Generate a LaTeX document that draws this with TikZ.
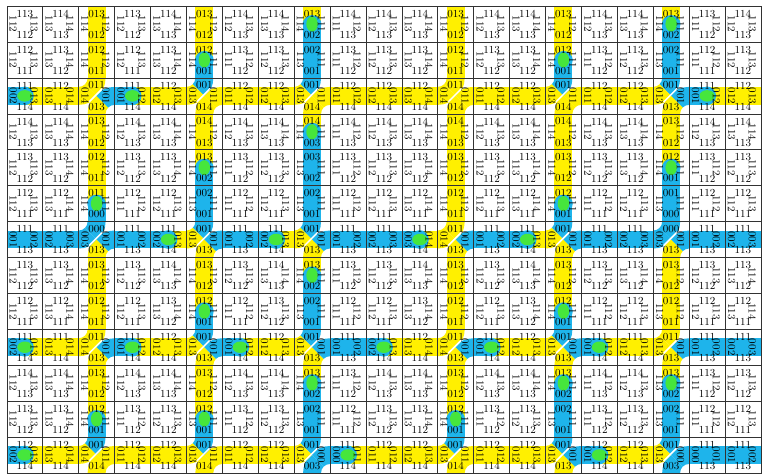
\documentclass[tikz,border=0pt]{standalone}
\usetikzlibrary{calc}
\definecolor{chipyellow}{RGB}{255,240,0}
\definecolor{chipblue}{RGB}{30,180,235}
\definecolor{chipgreen}{RGB}{70,230,60}
\definecolor{tileline}{RGB}{50,50,50}

\tikzset{
  lab/.style={inner sep=0pt,font=\fontsize{8.5}{10}\selectfont},
  sidelab/.style={lab,rotate=-90},
  border/.style={draw=tileline,line width=.5pt},
  gap/.style={white,line width=1.2pt}
}

% colour of an edge label: 11x none, 01x yellow, 00x blue
\makeatletter
\def\nocolor{none}
\newcommand\parselab[2]{\expandafter\parselab@\expandafter#1#2\relax}
\def\parselab@#1#2#3#4\relax{%
  \if1#2\def#1{none}\else\if1#3\def#1{chipyellow}\else\def#1{chipblue}\fi\fi}
\makeatother

% one Wang tile: column, row, north, east, south, west
\newcommand\wangtile[6]{%
  \parselab\colN{#3}\parselab\colE{#4}\parselab\colS{#5}\parselab\colW{#6}%
  \begin{scope}[shift={(#1+.5,-#2-.5)}]
    \ifx\colN\nocolor
      \ifx\colW\nocolor\else
        \fill[fill=\colW] (-.5,-.25) rectangle (0,.25);
        \fill[fill=\colE] (0,-.25) rectangle (.5,.25);
        \ifx\colW\colE\else
          \fill[chipblue] (0,0) ellipse[x radius=.25,y radius=.26];
          \fill[chipgreen] (0,0) ellipse[x radius=.21,y radius=.16];
        \fi
      \fi
    \else
      \ifx\colW\nocolor
        \fill[fill=\colN] (-.25,0) rectangle (.25,.5);
        \fill[fill=\colS] (-.25,-.5) rectangle (.25,0);
        \ifx\colN\colS\else
          \fill[chipblue] (0,0) ellipse[x radius=.26,y radius=.25];
          \fill[chipgreen] (0,0) ellipse[x radius=.16,y radius=.21];
        \fi
      \else
        \begin{scope}
          \clip (-.5,.5) -- (.5,.5) -- (0,0) -- cycle;
          \fill[fill=\colN,even odd rule] (-.5,.5) circle (.75) (-.5,.5) circle (.25);
        \end{scope}
        \begin{scope}
          \clip (-.5,.5) -- (-.5,-.5) -- (0,0) -- cycle;
          \fill[fill=\colW,even odd rule] (-.5,.5) circle (.75) (-.5,.5) circle (.25);
        \end{scope}
        \begin{scope}
          \clip (-.5,-.5) -- (.5,-.5) -- (0,0) -- cycle;
          \fill[fill=\colS,even odd rule] (.5,-.5) circle (.75) (.5,-.5) circle (.25);
        \end{scope}
        \begin{scope}
          \clip (.5,.5) -- (.5,-.5) -- (0,0) -- cycle;
          \fill[fill=\colE,even odd rule] (.5,-.5) circle (.75) (.5,-.5) circle (.25);
        \end{scope}
        \draw[gap] (-.21,-.17) -- (.17,.21);
      \fi
    \fi
    \draw[border] (-.5,-.5) rectangle (.5,.5);
    \node[lab] (n#1-#2) at (0,.29) {#3};
    \node[sidelab] (e#1-#2) at (.26,0) {#4};
    \node[lab] (s#1-#2) at (0,-.3) {#5};
    \node[sidelab] (w#1-#2) at (-.32,0) {#6};
  \end{scope}}

% a row of tiles, each given as north/east/south/west
\newcommand\tilerow[2]{%
  \foreach[count=\ci from 0] \tn/\te/\ts/\tw in {#2}{\wangtile{\ci}{#1}{\tn}{\te}{\ts}{\tw}}}

\begin{document}
\begin{tikzpicture}
  \useasboundingbox (-.19,-13.03) rectangle (21.03,.17);
  \tilerow{0}{113/113/112/112, 114/114/113/113, 013/112/012/114, 113/113/112/112, 114/114/113/113, 013/112/012/114, 114/113/113/112, 114/114/113/113, 013/111/002/114, 114/112/113/111, 114/113/113/112, 114/114/113/113, 013/112/012/114, 114/113/113/112, 114/114/113/113, 013/112/012/114, 114/113/113/112, 114/114/113/113, 013/111/002/114, 113/112/112/111, 114/113/113/112}
  \tilerow{1}{112/113/111/112, 113/114/112/113, 012/112/011/114, 112/113/111/112, 113/114/112/113, 012/111/001/114, 113/112/112/111, 113/113/112/112, 002/111/001/113, 113/112/112/111, 113/113/112/112, 113/114/112/113, 012/112/011/114, 113/113/112/112, 113/114/112/113, 012/111/001/114, 113/112/112/111, 113/113/112/112, 002/111/001/113, 112/112/111/111, 113/113/112/112}
  \tilerow{2}{111/013/114/002, 112/014/114/013, 011/001/013/014, 111/012/114/001, 112/013/114/012, 001/011/014/013, 112/012/114/011, 112/013/114/012, 001/011/014/013, 112/012/114/011, 112/013/114/012, 112/014/114/013, 011/011/014/014, 112/012/114/011, 112/013/114/012, 001/011/014/013, 112/012/114/011, 112/013/114/012, 001/001/013/013, 111/012/114/001, 112/013/114/012}
  \tilerow{3}{114/113/113/112, 114/114/113/113, 013/112/012/114, 114/113/113/112, 114/114/113/113, 014/112/013/114, 114/113/113/112, 114/114/113/113, 014/111/003/114, 114/112/113/111, 114/113/113/112, 114/114/113/113, 014/112/013/114, 114/113/113/112, 114/114/113/113, 014/112/013/114, 114/113/113/112, 114/114/113/113, 013/112/012/114, 114/113/113/112, 114/114/113/113}
  \tilerow{4}{113/113/112/112, 113/114/112/113, 012/112/011/114, 113/113/112/112, 113/114/112/113, 013/111/002/114, 113/112/112/111, 113/113/112/112, 003/111/002/113, 113/112/112/111, 113/113/112/112, 113/114/112/113, 013/112/012/114, 113/113/112/112, 113/114/112/113, 013/112/012/114, 113/113/112/112, 113/114/112/113, 012/111/001/114, 113/112/112/111, 113/113/112/112}
  \tilerow{5}{112/113/111/112, 112/114/111/113, 011/111/000/114, 112/112/111/111, 112/113/111/112, 002/111/001/113, 112/112/111/111, 112/113/111/112, 002/111/001/113, 112/112/111/111, 112/113/111/112, 112/114/111/113, 012/112/011/114, 112/113/111/112, 112/114/111/113, 012/111/001/114, 112/112/111/111, 112/113/111/112, 001/111/000/113, 112/112/111/111, 112/113/111/112}
  \tilerow{6}{111/002/113/001, 111/003/113/002, 000/001/013/003, 111/002/113/001, 111/013/114/002, 001/001/013/013, 111/002/113/001, 111/013/114/002, 001/001/013/013, 111/002/113/001, 111/003/113/002, 111/014/114/003, 011/001/013/014, 111/002/113/001, 111/013/114/002, 001/001/013/013, 111/002/113/001, 111/003/113/002, 000/001/013/003, 111/002/113/001, 111/003/113/002}
  \tilerow{7}{113/113/112/112, 113/114/112/113, 013/112/012/114, 113/113/112/112, 114/114/113/113, 013/112/012/114, 113/113/112/112, 114/114/113/113, 013/111/002/114, 113/112/112/111, 113/113/112/112, 114/114/113/113, 013/112/012/114, 113/113/112/112, 114/114/113/113, 013/112/012/114, 113/113/112/112, 113/114/112/113, 013/112/012/114, 113/113/112/112, 113/114/112/113}
  \tilerow{8}{112/113/111/112, 112/114/111/113, 012/112/011/114, 112/113/111/112, 113/114/112/113, 012/111/001/114, 112/112/111/111, 113/113/112/112, 002/111/001/113, 112/112/111/111, 112/113/111/112, 113/114/112/113, 012/112/011/114, 112/113/111/112, 113/114/112/113, 012/111/001/114, 112/112/111/111, 112/113/111/112, 012/112/011/113, 112/113/111/112, 112/114/111/113}
  \tilerow{9}{111/013/114/002, 111/014/114/013, 011/001/013/014, 111/012/114/001, 112/013/114/012, 001/001/013/013, 111/012/114/001, 112/013/114/012, 001/001/013/013, 111/002/113/001, 111/013/114/002, 112/014/114/013, 011/001/013/014, 111/012/114/001, 112/013/114/012, 001/001/013/013, 111/012/114/001, 111/013/114/012, 011/001/013/013, 111/002/113/001, 111/003/113/002}
  \tilerow{10}{114/113/113/112, 114/114/113/113, 013/112/012/114, 114/113/113/112, 114/114/113/113, 013/112/012/114, 114/113/113/112, 114/114/113/113, 013/111/002/114, 113/112/112/111, 114/113/113/112, 114/114/113/113, 013/112/012/114, 114/113/113/112, 114/114/113/113, 013/111/002/114, 114/112/113/111, 114/113/113/112, 013/111/002/113, 113/112/112/111, 113/113/112/112}
  \tilerow{11}{113/113/112/112, 113/114/112/113, 012/111/001/114, 113/112/112/111, 113/113/112/112, 012/111/001/113, 113/112/112/111, 113/113/112/112, 002/111/001/113, 112/112/111/111, 113/113/112/112, 113/114/112/113, 012/111/001/114, 113/112/112/111, 113/113/112/112, 002/111/001/113, 113/112/112/111, 113/113/112/112, 002/111/001/113, 112/112/111/111, 112/113/111/112}
  \tilerow{12}{112/013/114/002, 112/014/114/013, 001/011/014/014, 112/012/114/011, 112/013/114/012, 001/011/014/013, 112/012/114/011, 112/013/114/012, 001/000/003/013, 111/011/114/000, 112/012/114/011, 112/013/114/012, 001/011/014/013, 112/012/114/011, 112/013/114/012, 001/001/013/013, 112/012/114/001, 112/013/114/012, 001/000/003/013, 111/001/113/000, 111/002/113/001}
\end{tikzpicture}
\end{document}
